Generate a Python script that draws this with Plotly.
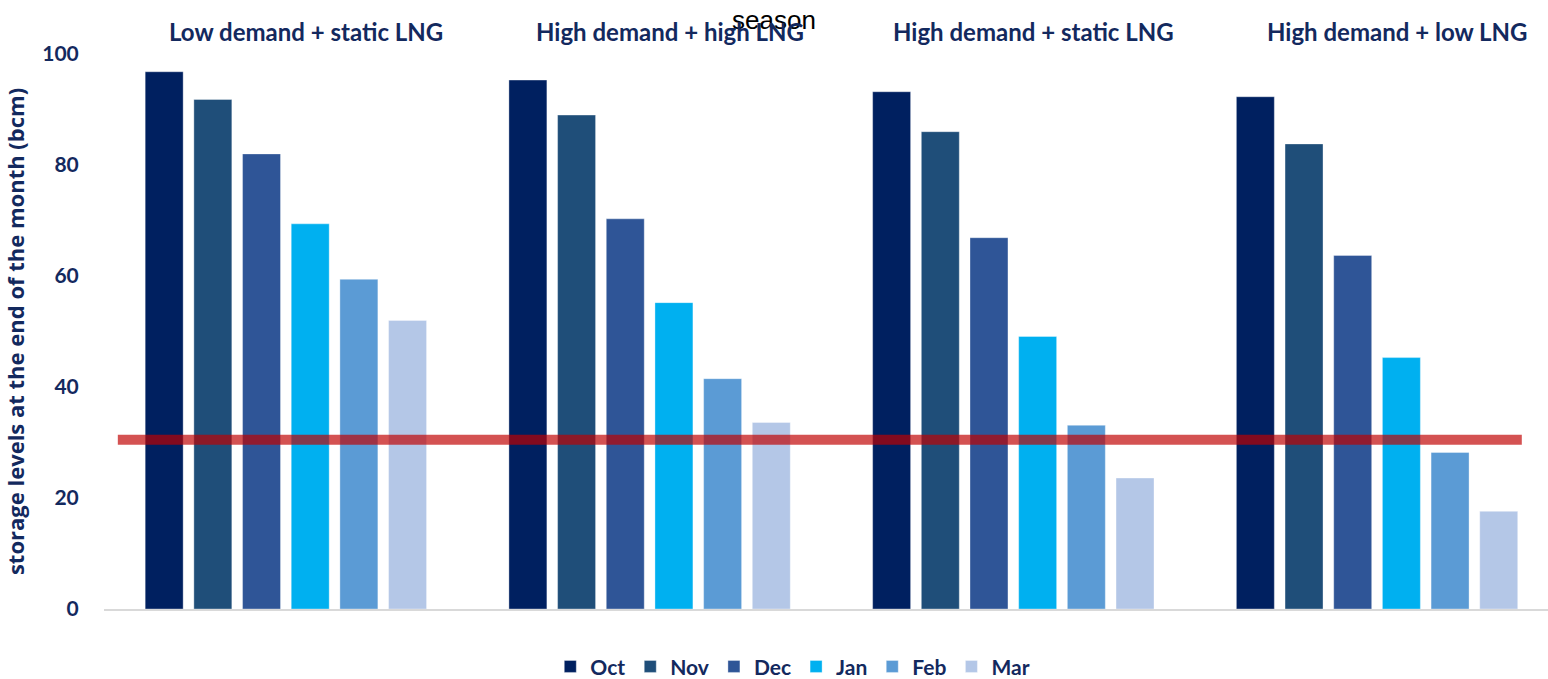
import plotly.graph_objects as go

# Scenario groups and end-of-month storage levels (bcm)
scenarios = [
    "Low demand + static LNG",
    "High demand + high LNG",
    "High demand + static LNG",
    "High demand + low LNG",
]
months = ["Oct", "Nov", "Dec", "Jan", "Feb", "Mar"]
oct_vals = [96.8, 95.3, 93.2, 92.3]
nov_vals = [91.8, 89.0, 86.0, 83.8]
dec_vals = [82.0, 70.3, 66.9, 63.7]
jan_vals = [69.4, 55.2, 49.1, 45.3]
feb_vals = [59.4, 41.5, 33.1, 28.2]
mar_vals = [52.0, 33.6, 23.6, 17.6]
threshold = 30.5
y_ticks = [0, 20, 40, 60, 80, 100]

month_colors = ["#002060", "#1f4e79", "#2f5597", "#00b0f0", "#5b9bd5", "#b4c7e7"]
series = [oct_vals, nov_vals, dec_vals, jan_vals, feb_vals, mar_vals]

navy = "#13295e"
font_family = "Lato, 'Open Sans', sans-serif"

fig = go.Figure()
for name, vals, color in zip(months, series, month_colors):
    fig.add_trace(go.Bar(
        x=scenarios, y=vals, name=f"<b>{name}</b>",
        marker=dict(color=color, line=dict(color="rgba(255,255,255,0.35)", width=1)),
    ))

# Scenario labels above each group
for s in scenarios:
    fig.add_annotation(
        x=s, xref="x", y=1.0, yref="paper", yshift=23, xshift=20,
        text=f"<b>{s}</b>", showarrow=False,
        font=dict(family=font_family, size=24, color=navy),
        yanchor="middle",
    )

# Minimum storage threshold line
fig.add_shape(
    type="line", xref="x", yref="y",
    x0=-0.462, x1=3.398, y0=threshold, y1=threshold,
    line=dict(color="rgba(192,0,0,0.68)", width=10),
    layer="above",
)

fig.update_layout(
    width=1548, height=679,
    margin=dict(l=104, r=0, t=54, b=70),
    paper_bgcolor="white", plot_bgcolor="white",
    barmode="group", bargap=0.197, bargroupgap=0.22,
    title=dict(text="season", x=0.5, xanchor="center", y=0.97, yanchor="middle",
               font=dict(family="Liberation Sans, Arial, sans-serif", size=26, color="black")),
    legend=dict(orientation="h", x=0.477, xanchor="center",
                yref="container", y=0.018, yanchor="middle",
                font=dict(family=font_family, size=21, color=navy),
                itemwidth=30, traceorder="normal"),
    showlegend=True,
    xaxis=dict(range=[-0.5, 3.47], showticklabels=False, showline=True,
               linecolor="#d9d9d9", linewidth=2, showgrid=False, ticks=""),
    yaxis=dict(range=[0, 100], showgrid=False, zeroline=False, showline=False,
               tickmode="array", tickvals=y_ticks,
               ticktext=[f"<b>{v}</b>" for v in y_ticks],
               ticks="outside", ticklen=20, tickcolor="rgba(0,0,0,0)",
               tickfont=dict(family=font_family, size=21, color=navy),
               title=dict(text="<b>storage levels at the end of the month (bcm)</b>",
                          font=dict(family="'Open Sans', sans-serif", size=22, color=navy),
                          standoff=12)),
)

fig.write_html("out.html")
